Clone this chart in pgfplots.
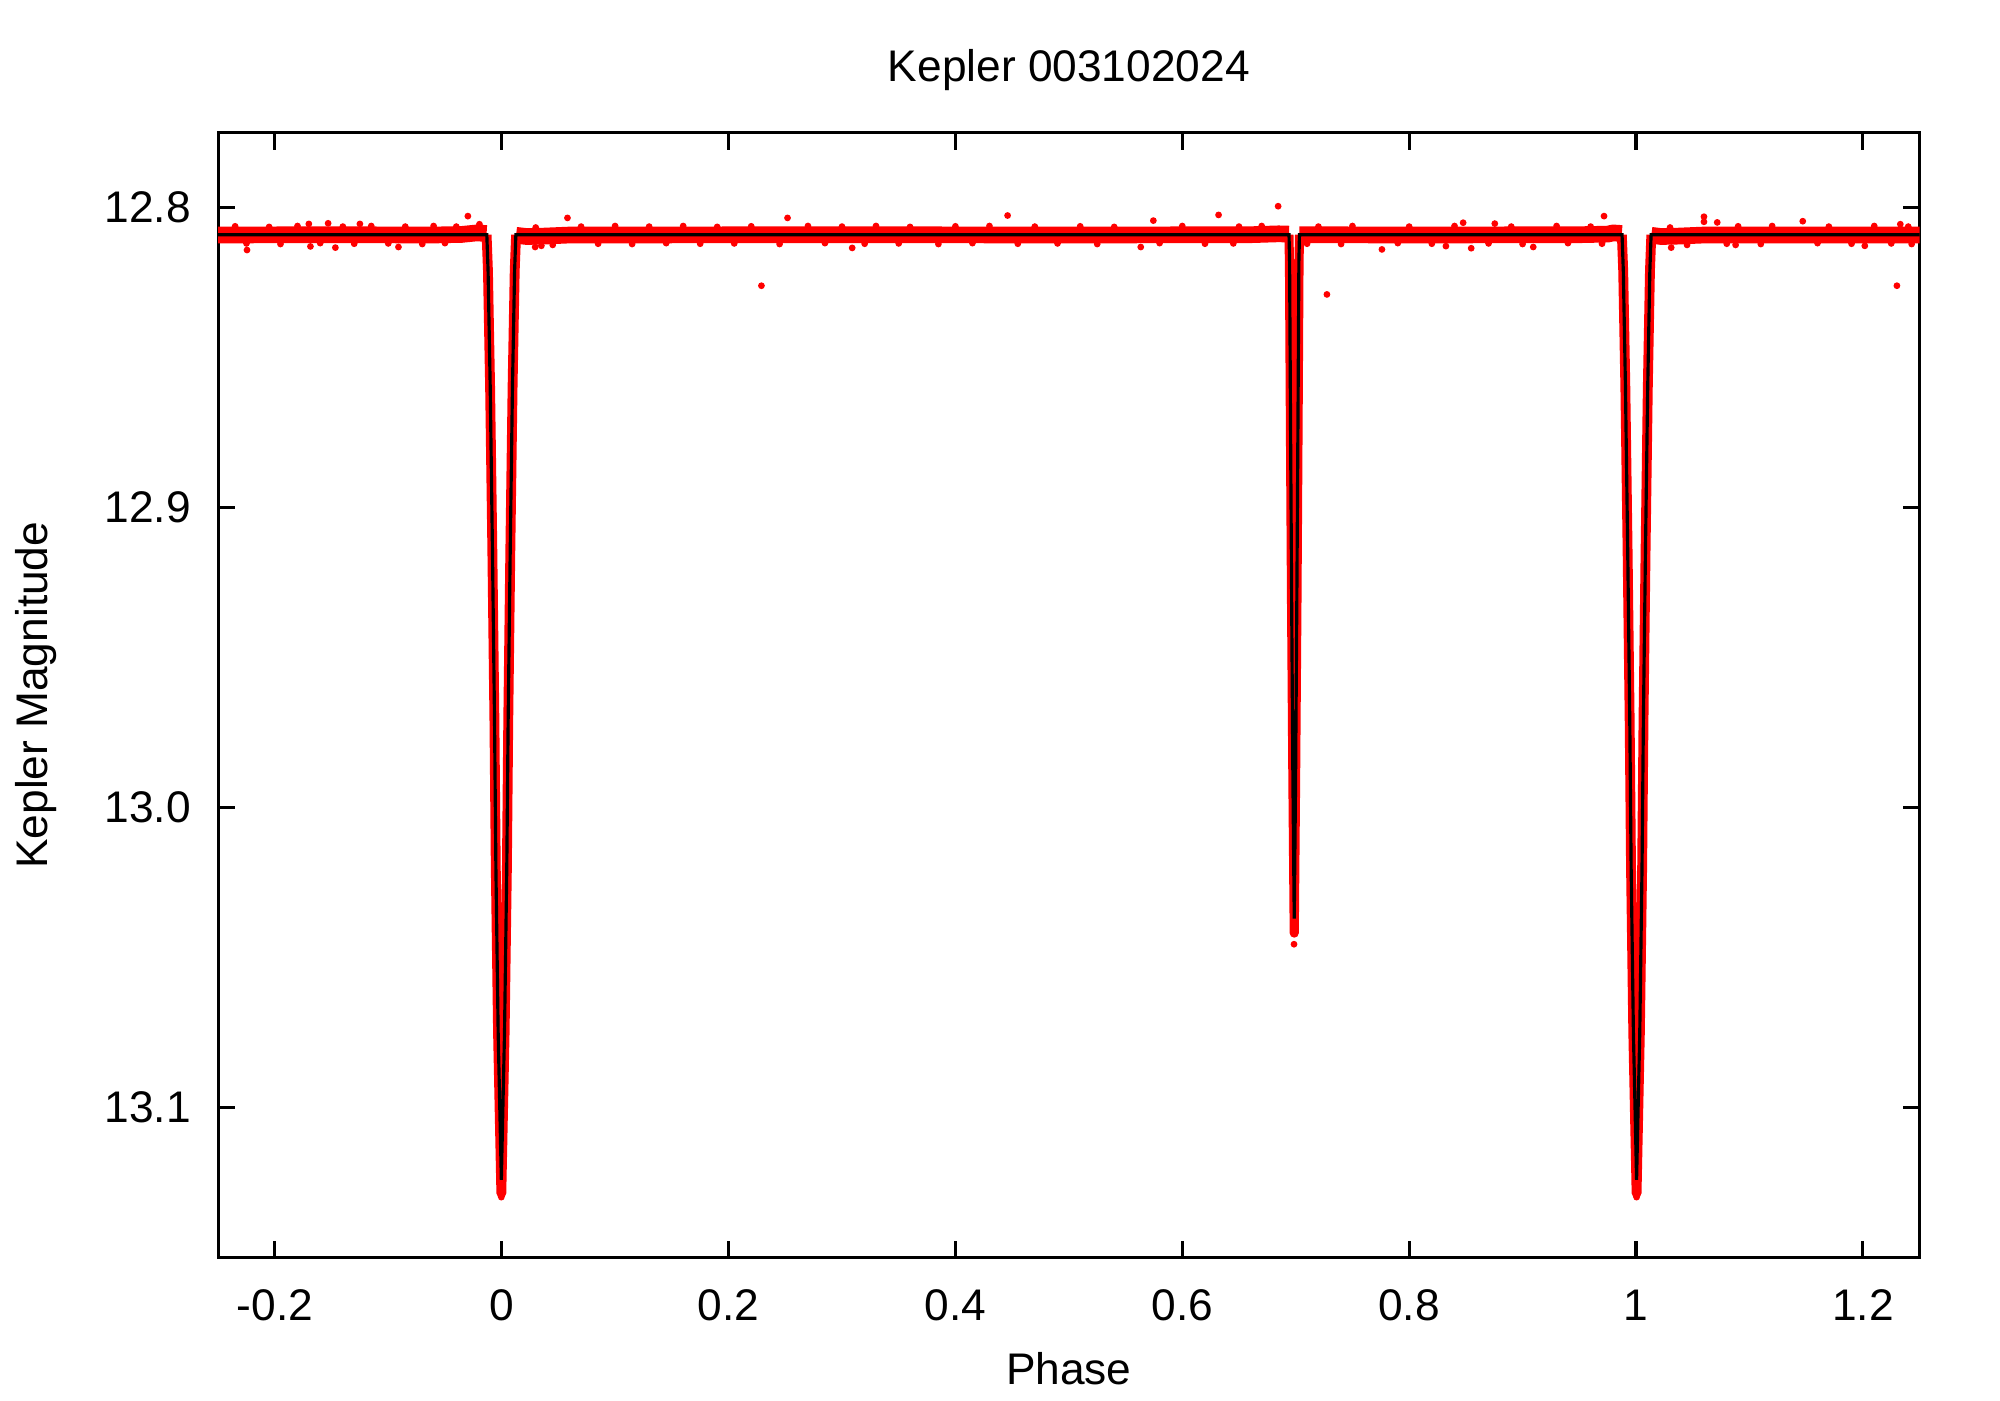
\documentclass[border=0pt]{standalone}
\usepackage{fontspec}
\setmainfont{Liberation Sans}
\usepackage{pgfplots}
\pgfplotsset{compat=1.18}
\usetikzlibrary{calc}
\definecolor{kred}{RGB}{255,0,0}

\begin{document}
\begin{tikzpicture}
\begin{axis}[
    scale only axis, width=17.015cm, height=11.25cm,
    xmin=-0.25, xmax=1.25, ymin=12.775, ymax=13.15, y dir=reverse,
    axis line style={line width=0.9pt},
    tick style={line width=0.9pt, black}, tick align=inside, major tick length=0.17cm,
    xtick={-0.2,0,0.2,0.4,0.6,0.8,1,1.2}, xticklabels={-0.2,0,0.2,0.4,0.6,0.8,1,1.2},
    ytick={12.8,12.9,13.0,13.1}, yticklabels={12.8,12.9,13.0,13.1},
    minor tick num=0,
    font=\fontsize{12.6}{14.5}\selectfont,
    xticklabel style={anchor=center, yshift=-0.474cm},
    yticklabel style={anchor=east, xshift=-0.15cm},
    title={Kepler 003102024},
    title style={at={(axis description cs:0.5,1.0366)}, anchor=center},
    xlabel={Phase},
    xlabel style={at={(axis description cs:0.5,-0.099)}, anchor=center},
    ylabel={Kepler Magnitude},
    ylabel style={at={(axis description cs:-0.107,0.5)}, anchor=center},
  ]
  % red data band (out of eclipse)
  \addplot[kred, line width=4.75pt, line cap=butt] coordinates {
    (-0.26,12.8091)(-0.15,12.8090)(-0.06,12.8091)(-0.035,12.8089)(-0.022,12.8084)(-0.0133,12.8086)};
  \addplot[kred, line width=4.75pt, line cap=butt] coordinates {
    (0.0127,12.8092)(0.022,12.8096)(0.035,12.8095)(0.06,12.8091)(0.30,12.8090)(0.50,12.8091)(0.66,12.8090)(0.685,12.8087)(0.6941,12.8088)};
  \addplot[kred, line width=4.75pt, line cap=butt] coordinates {
    (0.7033,12.8090)(0.80,12.8091)(0.95,12.8090)(0.975,12.8088)(0.980,12.8084)(0.9875,12.8086)};
  \addplot[kred, line width=4.75pt, line cap=butt] coordinates {
    (1.0135,12.8092)(1.022,12.8096)(1.035,12.8095)(1.06,12.8091)(1.26,12.8091)};
  % red data in eclipses
  \addplot[kred, line width=2.8pt, line join=round] coordinates {
    (-0.0133,12.809)(-0.0121,12.821)(-0.0102,12.860)(-0.0082,12.915)(-0.0064,12.971)(-0.0052,13.020)(-0.0032,13.075)
    (-0.0003,13.1285)(0.0026,13.075)(0.0046,13.020)(0.0058,12.971)(0.0076,12.915)(0.0096,12.860)(0.0115,12.821)(0.0127,12.809)};
  \addplot[kred, line width=2.6pt, line join=round] coordinates {
    (0.6940,12.809)(0.6945,12.818)(0.6953,12.870)(0.6963,12.930)(0.6975,12.990)(0.6987,13.0418)
    (0.6999,12.990)(0.7011,12.930)(0.7021,12.870)(0.7029,12.818)(0.7034,12.809)};
  \addplot[kred, line width=2.8pt, line join=round] coordinates {
    (0.9875,12.809)(0.9887,12.821)(0.9906,12.860)(0.9926,12.915)(0.9944,12.971)(0.9956,13.020)(0.9976,13.075)
    (1.0005,13.1285)(1.0034,13.075)(1.0054,13.020)(1.0066,12.971)(1.0084,12.915)(1.0104,12.860)(1.0123,12.821)(1.0135,12.809)};
  % ragged band edges
  \addplot[only marks, mark=*, mark size=0.75pt, kred] coordinates {
    (-0.235,12.8062)(-0.205,12.8064)(-0.18,12.8061)(-0.14,12.8063)(-0.115,12.8061)(-0.085,12.8063)(-0.06,12.8061)(-0.04,12.8063)
    (0.03,12.8066)(0.07,12.8063)(0.10,12.8061)(0.13,12.8063)(0.16,12.8061)(0.19,12.8064)(0.22,12.8062)(0.27,12.8061)
    (0.30,12.8063)(0.33,12.8061)(0.36,12.8064)(0.40,12.8062)(0.43,12.8061)(0.47,12.8063)(0.51,12.8062)(0.54,12.8064)
    (0.60,12.8061)(0.65,12.8063)(0.67,12.8061)(0.72,12.8063)(0.75,12.8061)(0.80,12.8063)(0.84,12.8061)(0.89,12.8063)
    (0.93,12.8061)(0.96,12.8063)(1.03,12.8066)(1.09,12.8062)(1.12,12.8061)(1.17,12.8063)(1.21,12.8061)(1.24,12.8063)
    (-0.225,12.8119)(-0.195,12.8121)(-0.16,12.8118)(-0.13,12.8120)(-0.10,12.8119)(-0.07,12.8121)(-0.05,12.8118)
    (0.045,12.8124)(0.085,12.8120)(0.115,12.8121)(0.145,12.8118)(0.175,12.8120)(0.205,12.8119)(0.245,12.8121)(0.285,12.8118)
    (0.32,12.8120)(0.35,12.8119)(0.385,12.8121)(0.415,12.8118)(0.455,12.8120)(0.49,12.8119)(0.525,12.8121)(0.58,12.8118)
    (0.62,12.8120)(0.645,12.8119)(0.71,12.8120)(0.74,12.8121)(0.79,12.8118)(0.82,12.8120)(0.87,12.8119)(0.90,12.8121)
    (0.94,12.8118)(0.97,12.8120)(1.045,12.8124)(1.08,12.8120)(1.11,12.8121)(1.16,12.8118)(1.19,12.8120)(1.225,12.8119)};
  % outliers
  \addplot[only marks, mark=*, mark size=0.75pt, kred] coordinates {
    (-0.2245,12.8141)(-0.170,12.8054)(-0.1686,12.8129)(-0.153,12.8052)(-0.1466,12.8133)(-0.125,12.8054)(-0.091,12.8131)
    (-0.0298,12.8028)(-0.0196,12.8055)(0.0295,12.8131)(0.035,12.8127)(0.058,12.8034)(0.229,12.826)(0.252,12.8034)
    (0.309,12.8134)(0.446,12.8026)(0.5634,12.8131)(0.5745,12.8043)(0.632,12.8024)(0.6845,12.7995)(0.7275,12.8289)
    (0.776,12.8139)(0.8324,12.8128)(0.8476,12.8050)(0.8547,12.8135)(0.8755,12.8053)(0.9094,12.8131)(0.9718,12.8028)
    (1.031,12.8133)(1.0599,12.8030)(1.0599,12.8047)(1.0716,12.8049)(1.0878,12.8124)(1.147,12.8045)(1.2017,12.8127)
    (1.230,12.826)(1.233,12.8055)(1.243,12.8121)(0.6985,13.0455)(-0.0003,13.1298)(1.0005,13.1298)};
  % model
  \addplot[black, line width=0.9pt, line join=miter] coordinates {
    (-0.26,12.809)(-0.0131,12.809)(-0.0120,12.821)(-0.0101,12.860)(-0.0081,12.915)(-0.0063,12.971)(-0.0051,13.020)(-0.0031,13.075)
    (-0.0003,13.124)(0.0025,13.075)(0.0045,13.020)(0.0057,12.971)(0.0075,12.915)(0.0095,12.860)(0.0114,12.821)(0.0125,12.809)
    (0.6941,12.809)(0.6946,12.818)(0.6954,12.870)(0.6964,12.930)(0.6975,12.990)(0.6987,13.037)
    (0.6999,12.990)(0.7010,12.930)(0.7020,12.870)(0.7028,12.818)(0.7033,12.809)
    (0.9877,12.809)(0.9888,12.821)(0.9907,12.860)(0.9927,12.915)(0.9945,12.971)(0.9957,13.020)(0.9977,13.075)
    (1.0005,13.124)(1.0033,13.075)(1.0053,13.020)(1.0065,12.971)(1.0083,12.915)(1.0103,12.860)(1.0122,12.821)(1.0133,12.809)
    (1.26,12.809)};
\end{axis}
\path ($(current axis.south west)+(-2.181cm,-1.424cm)$) rectangle ($(current axis.north east)+(0.804cm,1.327cm)$);
\end{tikzpicture}
\end{document}
